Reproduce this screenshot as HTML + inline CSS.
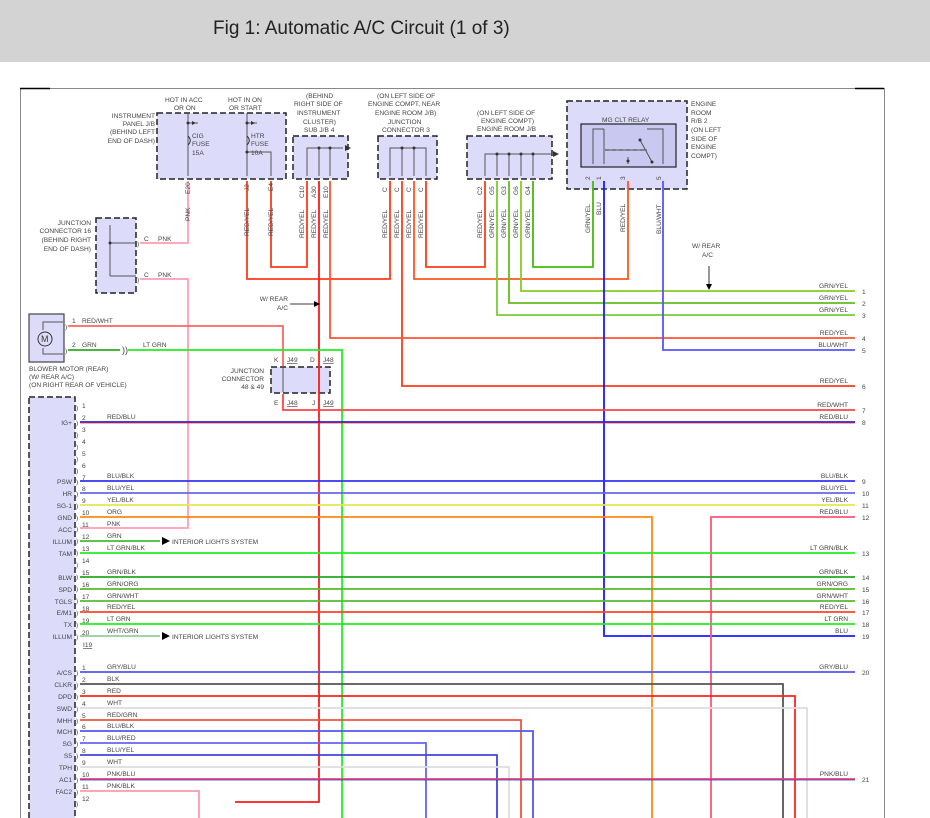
<!DOCTYPE html>
<html><head><meta charset="utf-8"><style>
html,body{margin:0;padding:0;background:#fff;width:930px;height:818px;overflow:hidden}
svg{display:block}
text{font-family:"Liberation Sans",sans-serif;font-size:6.6px;fill:#444}
.box{fill:#dcdcfa;stroke:#222;stroke-width:1.5;stroke-dasharray:6,3}
.w{fill:none;stroke-width:1.8}
.g{fill:none;stroke:#555;stroke-width:1}
.r{text-anchor:end}
</style></head><body>
<svg width="930" height="818" viewBox="0 0 930 818">
<rect x="0" y="0" width="930" height="62" fill="#d3d3d3"/>
<text x="213" y="34" style="font-size:19px;fill:#222">Fig 1: Automatic A/C Circuit (1 of 3)</text>
<rect x="20.5" y="88.5" width="864" height="740" fill="none" stroke="#888" stroke-width="1"/>
<line x1="20" y1="88.5" x2="50" y2="88.5" stroke="#000" stroke-width="1.5"/>
<line x1="855" y1="88.5" x2="884" y2="88.5" stroke="#000" stroke-width="1.5"/>

<!-- boxes -->
<rect class="box" x="157" y="113" width="129" height="66"/>
<rect class="box" x="293" y="136" width="55" height="43"/>
<rect class="box" x="378" y="136" width="59" height="43"/>
<rect class="box" x="467" y="136" width="85" height="43"/>
<rect class="box" x="567" y="101" width="120" height="88"/>
<rect x="581" y="124" width="95" height="43" fill="#c8c8f0" stroke="#222" stroke-width="1.2"/>
<rect class="box" x="96" y="218" width="40" height="75"/>
<rect class="box" x="271" y="367" width="59" height="26"/>
<rect x="29" y="314" width="35" height="48" fill="#dcdcfa" stroke="#444" stroke-width="1.2"/>
<rect class="box" x="29" y="397" width="46" height="430"/>

<!-- box internals -->
<g class="g">
<path d="M188 113V176 M188 123h10 M247 113V176 M247 123h10 M247 152h24v24"/>
<path d="M188 136c3 3 3 6 0 9 M247 136c3 3 3 6 0 9" stroke="#333"/>
<path d="M307 176V148h36 M319 148V176 M330 148V176"/>
<path d="M390 176V148h36v28 M402 148V176 M414 148V176"/>
<path d="M485 176V154h66 M497 154V176 M509 154V176 M521 154V176 M533 154V176"/>
<path d="M593 164V129h11 M604 129V164 M605 150h42 M628 164V157 M663 164V129h-16 M640 140l12 22" />
<path d="M110 276V225 M110 243h26 M110 276h26"/>
<path d="M283 368V392 M319 368V392"/>
<path d="M43 330V322h20 M43 348V354h20"/>
</g>
<path d="M605 150h42" stroke="#333" stroke-dasharray="4,3" fill="none"/>
<circle cx="45" cy="339" r="7" fill="#dcdcfa" stroke="#333"/>
<text x="41" y="342" style="font-size:9px;fill:#333">M</text>
<g fill="#333"><circle cx="188" cy="123" r="1.5"/><circle cx="247" cy="123" r="1.5"/><circle cx="247" cy="152" r="1.5"/>
<circle cx="319" cy="148" r="1.5"/><circle cx="330" cy="148" r="1.5"/><circle cx="402" cy="148" r="1.5"/><circle cx="414" cy="148" r="1.5"/>
<circle cx="497" cy="154" r="1.5"/><circle cx="509" cy="154" r="1.5"/><circle cx="521" cy="154" r="1.5"/><circle cx="533" cy="154" r="1.5"/>
<circle cx="628" cy="161" r="1.5"/><circle cx="640" cy="140" r="1.5"/><circle cx="652" cy="162" r="1.5"/><circle cx="110" cy="243" r="1.5"/>
<path d="M351 148l-6 -3v6z M559 154l-6 -3v6z M196 123l-4-2v4z M255 123l-4-2v4z"/></g>

<!-- wires -->
<g class="w">
<path d="M188 181V243H140" stroke="#ff9fb0"/>
<path d="M140 279H188V528H80" stroke="#ff9fb0"/>
<path d="M271 181V267H307V181" stroke="#ff3a1a"/>
<path d="M247 181V279H390V181" stroke="#ff3a1a"/>
<path d="M426 181V267H485V181" stroke="#ff3a1a"/>
<path d="M414 181V279H628V181" stroke="#ff5522"/>
<path d="M402 181V386H855" stroke="#ff3a1a"/>
<path d="M330 181V338H855" stroke="#ff5533"/>
<path d="M319 181V802H235" stroke="#ff1a1a"/>
<path d="M533 181V267H593V181" stroke="#44bb11"/>
<path d="M521 181V291H855" stroke="#88cc22"/>
<path d="M509 181V303H855" stroke="#66bb22"/>
<path d="M497 181V315H855" stroke="#77cc33"/>
<path d="M604 181V636H855" stroke="#1a1aff"/>
<path d="M663 181V350H855" stroke="#5555ff"/>
<path d="M68 326H283V366" stroke="#ff6666"/>
<path d="M68 350H120" stroke="#33aa22"/>
<path d="M128 350H342V818" stroke="#22ee22"/>
<path d="M283 394V410H855" stroke="#ff4444"/>
<path d="M80 422H855" stroke="#2222dd"/>
<path d="M80 481H855" stroke="#3333ee"/>
<path d="M80 493H855" stroke="#6666ee"/>
<path d="M80 505H855" stroke="#e6e650"/>
<path d="M80 517H652V818" stroke="#ff8811"/>
<path d="M855 517H711V818" stroke="#ff5577"/>
<path d="M80 541H160" stroke="#44bb33"/>
<path d="M80 553H855" stroke="#22ee22"/>
<path d="M80 577H855" stroke="#22aa22"/>
<path d="M80 589H855" stroke="#55bb22"/>
<path d="M80 601H855" stroke="#55bb33"/>
<path d="M80 612H855" stroke="#ff4422"/>
<path d="M80 624H855" stroke="#22ee22"/>
<path d="M80 636H160" stroke="#99cc99"/>
<path d="M80 672H855" stroke="#5555ee"/>
<path d="M80 684H783V818" stroke="#555"/>
<path d="M80 696H795V818" stroke="#ff2222"/>
<path d="M80 708H807V818" stroke="#dddddd"/>
<path d="M80 720H521V818" stroke="#ee5544"/>
<path d="M80 731H533V818" stroke="#5555ee"/>
<path d="M80 743H426V818" stroke="#6666ee"/>
<path d="M80 755H497V818" stroke="#4444dd"/>
<path d="M80 767H509V818" stroke="#dddddd"/>
<path d="M80 779H855" stroke="#ee4466"/>
<path d="M80 791H199V818" stroke="#ff99aa"/>
</g>
<line x1="80" y1="423" x2="855" y2="423" stroke="#ff2222" stroke-width="0.7"/>
<line x1="80" y1="780" x2="855" y2="780" stroke="#3333dd" stroke-width="0.7"/>
<g fill="#000"><path d="M170 541l-8-4v8z M170 636l-8-4v8z M320 304l-6-3v6z M709 290l-3-6h6z"/></g>
<g stroke="#000" fill="none" stroke-width="0.8"><path d="M290 304h26 M709 266v20"/></g>
<text x="122" y="353" style="font-size:9px">))</text>

<!-- top labels -->
<text x="165" y="102">HOT IN ACC</text><text x="174" y="110">OR ON</text>
<text x="228" y="102">HOT IN ON</text><text x="229" y="110">OR START</text>
<text class="r" x="155" y="118">INSTRUMENT</text><text class="r" x="155" y="126">PANEL J/B</text>
<text class="r" x="155" y="134">(BEHIND LEFT</text><text class="r" x="155" y="143">END OF DASH)</text>
<text x="192" y="138">CIG</text><text x="192" y="146">FUSE</text><text x="192" y="155">15A</text>
<text x="251" y="138">HTR</text><text x="251" y="146">FUSE</text><text x="251" y="155">10A</text>
<text x="306" y="98">(BEHIND</text><text x="294" y="106">RIGHT SIDE OF</text><text x="297" y="115">INSTRUMENT</text><text x="303" y="124">CLUSTER)</text><text x="304" y="132">SUB J/B 4</text>
<text x="377" y="98">(ON LEFT SIDE OF</text><text x="368" y="106">ENGINE COMPT, NEAR</text><text x="375" y="115">ENGINE ROOM J/B)</text><text x="388" y="124">JUNCTION</text><text x="382" y="132">CONNECTOR 3</text>
<text x="477" y="115">(ON LEFT SIDE OF</text><text x="481" y="123">ENGINE COMPT)</text><text x="477" y="131">ENGINE ROOM J/B</text>
<text x="602" y="122">MG CLT RELAY</text>
<text x="691" y="106">ENGINE</text><text x="691" y="115">ROOM</text><text x="691" y="123">R/B 2</text><text x="691" y="132">(ON LEFT</text><text x="691" y="141">SIDE OF</text><text x="691" y="149">ENGINE</text><text x="691" y="158">COMPT)</text>
<text class="r" x="91" y="225">JUNCTION</text><text class="r" x="91" y="233">CONNECTOR 16</text><text class="r" x="91" y="242">(BEHIND RIGHT</text><text class="r" x="91" y="251">END OF DASH)</text>
<text x="144" y="241">C</text><text x="158" y="241">PNK</text><text x="144" y="277">C</text><text x="158" y="277">PNK</text>
<text x="72" y="323">1</text><text x="82" y="323">RED/WHT</text><text x="72" y="347">2</text><text x="82" y="347">GRN</text><text x="143" y="347">LT GRN</text>
<text x="29" y="371">BLOWER MOTOR (REAR)</text><text x="29" y="379">(W/ REAR A/C)</text><text x="29" y="387">(ON RIGHT REAR OF VEHICLE)</text>
<text class="r" x="264" y="373">JUNCTION</text><text class="r" x="264" y="381">CONNECTOR</text><text class="r" x="264" y="389">48 &amp; 49</text>
<text x="274" y="362">K</text><text x="287" y="362" text-decoration="underline">J49</text><text x="310" y="362">D</text><text x="323" y="362" text-decoration="underline">J48</text>
<text x="274" y="405">E</text><text x="287" y="405" text-decoration="underline">J48</text><text x="312" y="405">J</text><text x="323" y="405" text-decoration="underline">J49</text>
<text class="r" x="288" y="301">W/ REAR</text><text class="r" x="288" y="310">A/C</text>
<text x="692" y="248">W/ REAR</text><text x="702" y="257">A/C</text>
<text x="172" y="544">INTERIOR LIGHTS SYSTEM</text><text x="172" y="639">INTERIOR LIGHTS SYSTEM</text>

<!-- vertical labels -->
<g>
<text transform="translate(190,194) rotate(-90)">E20</text><text transform="translate(190,221) rotate(-90)">PNK</text>
<text transform="translate(249,191) rotate(-90)">J2</text><text transform="translate(249,236) rotate(-90)">RED/YEL</text>
<text transform="translate(273,191) rotate(-90)">E4</text><text transform="translate(273,236) rotate(-90)">RED/YEL</text>
<text transform="translate(304,198) rotate(-90)">C10</text><text transform="translate(304,238) rotate(-90)">RED/YEL</text>
<text transform="translate(316,198) rotate(-90)">A30</text><text transform="translate(316,238) rotate(-90)">RED/YEL</text>
<text transform="translate(328,198) rotate(-90)">E10</text><text transform="translate(328,238) rotate(-90)">RED/YEL</text>
<text transform="translate(387,192) rotate(-90)">C</text><text transform="translate(387,238) rotate(-90)">RED/YEL</text>
<text transform="translate(399,192) rotate(-90)">C</text><text transform="translate(399,238) rotate(-90)">RED/YEL</text>
<text transform="translate(411,192) rotate(-90)">C</text><text transform="translate(411,238) rotate(-90)">RED/YEL</text>
<text transform="translate(423,192) rotate(-90)">C</text><text transform="translate(423,238) rotate(-90)">RED/YEL</text>
<text transform="translate(482,195) rotate(-90)">C2</text><text transform="translate(482,238) rotate(-90)">RED/YEL</text>
<text transform="translate(494,195) rotate(-90)">G5</text><text transform="translate(494,238) rotate(-90)">GRN/YEL</text>
<text transform="translate(506,195) rotate(-90)">G3</text><text transform="translate(506,238) rotate(-90)">GRN/YEL</text>
<text transform="translate(518,195) rotate(-90)">G6</text><text transform="translate(518,238) rotate(-90)">GRN/YEL</text>
<text transform="translate(530,195) rotate(-90)">G4</text><text transform="translate(530,238) rotate(-90)">GRN/YEL</text>
<text transform="translate(590,180) rotate(-90)">2</text><text transform="translate(590,233) rotate(-90)">GRN/YEL</text>
<text transform="translate(601,180) rotate(-90)">1</text><text transform="translate(601,215) rotate(-90)">BLU</text>
<text transform="translate(625,180) rotate(-90)">3</text><text transform="translate(625,232) rotate(-90)">RED/YEL</text>
<text transform="translate(661,180) rotate(-90)">5</text><text transform="translate(661,234) rotate(-90)">BLU/WHT</text>
</g>

<!-- right labels -->
<g>
<text class="r" x="848" y="288">GRN/YEL</text><text x="862" y="294">1</text>
<text class="r" x="848" y="300">GRN/YEL</text><text x="862" y="306">2</text>
<text class="r" x="848" y="312">GRN/YEL</text><text x="862" y="318">3</text>
<text class="r" x="848" y="335">RED/YEL</text><text x="862" y="341">4</text>
<text class="r" x="848" y="347">BLU/WHT</text><text x="862" y="353">5</text>
<text class="r" x="848" y="383">RED/YEL</text><text x="862" y="389">6</text>
<text class="r" x="848" y="407">RED/WHT</text><text x="862" y="413">7</text>
<text class="r" x="848" y="419">RED/BLU</text><text x="862" y="425">8</text>
<text class="r" x="848" y="478">BLU/BLK</text><text x="862" y="484">9</text>
<text class="r" x="848" y="490">BLU/YEL</text><text x="862" y="496">10</text>
<text class="r" x="848" y="502">YEL/BLK</text><text x="862" y="508">11</text>
<text class="r" x="848" y="514">RED/BLU</text><text x="862" y="520">12</text>
<text class="r" x="848" y="550">LT GRN/BLK</text><text x="862" y="556">13</text>
<text class="r" x="848" y="574">GRN/BLK</text><text x="862" y="580">14</text>
<text class="r" x="848" y="586">GRN/ORG</text><text x="862" y="592">15</text>
<text class="r" x="848" y="598">GRN/WHT</text><text x="862" y="604">16</text>
<text class="r" x="848" y="609">RED/YEL</text><text x="862" y="615">17</text>
<text class="r" x="848" y="621">LT GRN</text><text x="862" y="627">18</text>
<text class="r" x="848" y="633">BLU</text><text x="862" y="639">19</text>
<text class="r" x="848" y="669">GRY/BLU</text><text x="862" y="675">20</text>
<text class="r" x="848" y="776">PNK/BLU</text><text x="862" y="782">21</text>
</g>

<!-- ECU pins -->
<g>
<text x="82" y="408">1</text><text x="82" y="420">2</text><text x="82" y="432">3</text><text x="82" y="444">4</text><text x="82" y="456">5</text><text x="82" y="468">6</text>
<text x="82" y="480">7</text><text x="82" y="491">8</text><text x="82" y="503">9</text><text x="82" y="515">10</text><text x="82" y="527">11</text><text x="82" y="539">12</text>
<text x="82" y="551">13</text><text x="82" y="563">14</text><text x="82" y="575">15</text><text x="82" y="587">16</text><text x="82" y="599">17</text><text x="82" y="611">18</text>
<text x="82" y="623">19</text><text x="82" y="635">20</text><text x="83" y="647" text-decoration="underline">I19</text>
<text x="82" y="670">1</text><text x="82" y="682">2</text><text x="82" y="694">3</text><text x="82" y="706">4</text><text x="82" y="718">5</text><text x="82" y="729">6</text>
<text x="82" y="741">7</text><text x="82" y="753">8</text><text x="82" y="765">9</text><text x="82" y="777">10</text><text x="82" y="789">11</text><text x="82" y="801">12</text>
<text x="107" y="419">RED/BLU</text><text x="107" y="478">BLU/BLK</text><text x="107" y="490">BLU/YEL</text><text x="107" y="502">YEL/BLK</text>
<text x="107" y="514">ORG</text><text x="107" y="526">PNK</text><text x="107" y="538">GRN</text><text x="107" y="550">LT GRN/BLK</text>
<text x="107" y="574">GRN/BLK</text><text x="107" y="586">GRN/ORG</text><text x="107" y="598">GRN/WHT</text><text x="107" y="609">RED/YEL</text>
<text x="107" y="621">LT GRN</text><text x="107" y="633">WHT/GRN</text>
<text x="107" y="669">GRY/BLU</text><text x="107" y="681">BLK</text><text x="107" y="693">RED</text><text x="107" y="705">WHT</text>
<text x="107" y="717">RED/GRN</text><text x="107" y="728">BLU/BLK</text><text x="107" y="740">BLU/RED</text><text x="107" y="752">BLU/YEL</text>
<text x="107" y="764">WHT</text><text x="107" y="776">PNK/BLU</text><text x="107" y="788">PNK/BLK</text>
</g>
<g>
<text class="r" x="72" y="425">IG+</text><text class="r" x="72" y="484">PSW</text><text class="r" x="72" y="496">HR</text><text class="r" x="72" y="508">SG-1</text>
<text class="r" x="72" y="520">GND</text><text class="r" x="72" y="532">ACC</text><text class="r" x="72" y="544">ILLUM</text><text class="r" x="72" y="556">TAM</text>
<text class="r" x="72" y="580">BLW</text><text class="r" x="72" y="592">SPD</text><text class="r" x="72" y="604">TGLS</text><text class="r" x="72" y="615">E/M1</text>
<text class="r" x="72" y="627">TX</text><text class="r" x="72" y="639">ILLUM</text>
<text class="r" x="72" y="675">A/CS</text><text class="r" x="72" y="687">CLKR</text><text class="r" x="72" y="699">DPD</text><text class="r" x="72" y="711">SWD</text>
<text class="r" x="72" y="723">MHH</text><text class="r" x="72" y="734">MCH</text><text class="r" x="72" y="746">SG</text><text class="r" x="72" y="758">S5</text>
<text class="r" x="72" y="770">TPH</text><text class="r" x="72" y="782">AC1</text><text class="r" x="72" y="794">FAC2</text>
</g>
<g style="font-size:9px">
<text x="76" y="410">)</text><text x="76" y="425">)</text><text x="76" y="437">)</text><text x="76" y="449">)</text><text x="76" y="461">)</text><text x="76" y="473">)</text>
<text x="76" y="484">)</text><text x="76" y="496">)</text><text x="76" y="508">)</text><text x="76" y="520">)</text><text x="76" y="531">)</text><text x="76" y="543">)</text>
<text x="76" y="555">)</text><text x="76" y="567">)</text><text x="76" y="579">)</text><text x="76" y="591">)</text><text x="76" y="603">)</text><text x="76" y="615">)</text>
<text x="76" y="627">)</text><text x="76" y="639">)</text>
<text x="76" y="675">)</text><text x="76" y="687">)</text><text x="76" y="699">)</text><text x="76" y="711">)</text><text x="76" y="723">)</text><text x="76" y="734">)</text>
<text x="76" y="746">)</text><text x="76" y="758">)</text><text x="76" y="770">)</text><text x="76" y="782">)</text><text x="76" y="794">)</text><text x="76" y="806">)</text>
<text x="65" y="329">)</text><text x="65" y="353">)</text><text x="137" y="246">)</text><text x="137" y="282">)</text>
</g>
</svg>
</body></html>
